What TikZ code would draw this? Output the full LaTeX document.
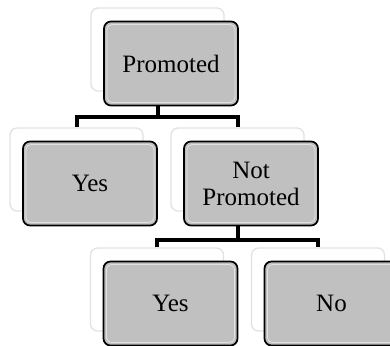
\documentclass[tikz,border=0pt]{standalone}
\usepackage{fontspec}
\setmainfont{Liberation Serif}
\begin{document}
\definecolor{boxgray}{HTML}{C0C0C0}
\definecolor{backedge}{HTML}{E2E2E2}
\begin{tikzpicture}[x=1pt,y=-1pt,
  backbox/.style={rectangle, rounded corners=7pt, minimum width=133pt,
    minimum height=83pt, inner sep=0pt, fill=white, draw=backedge, line width=1.3pt},
  frontbox/.style={rectangle, rounded corners=7pt, minimum width=134pt,
    minimum height=84pt, inner sep=2pt, fill=boxgray, draw=black, line width=1.7pt,
    align=center, font=\fontsize{25}{27}\selectfont},
  glint/.style={rectangle, rounded corners=5pt, minimum width=128pt,
    minimum height=78pt, inner sep=0pt, draw=white, draw opacity=0.55, line width=0.8pt},
  conn/.style={line width=4pt, black}]
\useasboundingbox (0,0) rectangle (390,345);
\clip (0,0) rectangle (390,345);

% pale cards standing behind the labelled boxes
\node[backbox] (pb)  at (157.5, 49.5) {};
\node[backbox] (y1b) at (76.5, 169.5) {};
\node[backbox] (npb) at (237.5, 169.5) {};
\node[backbox] (y2b) at (157, 289.5) {};
\node[backbox] (nob) at (318, 289.5) {};

% tree connectors, attached to the back cards
\coordinate (bar1) at (0,116.5);
\coordinate (bar2) at (0,240);
\draw[conn] (pb.south) -- (pb.south |- bar1);
\draw[conn] (y1b.north) -- (y1b.north |- bar1) -- (npb.north |- bar1) -- (npb.north);
\draw[conn] (npb.south) -- (npb.south |- bar2);
\draw[conn] (y2b.north) -- (y2b.north |- bar2) -- (nob.north |- bar2) -- (nob.north);

% labelled grey boxes
\node[frontbox] (p)  at (171, 63.5) {Promoted};
\node[frontbox] (y1) at (90, 183.5) {Yes};
\node[frontbox] (np) at (251, 183.5) {Not\\Promoted};
\node[frontbox] (y2) at (170.5, 303.5) {Yes};
\node[frontbox] (no) at (331.5, 303.5) {No};

% soft inner rims on the grey boxes
\foreach \b in {p,y1,np,y2,no}
  \node[glint] at (\b) {};
\end{tikzpicture}
\end{document}
